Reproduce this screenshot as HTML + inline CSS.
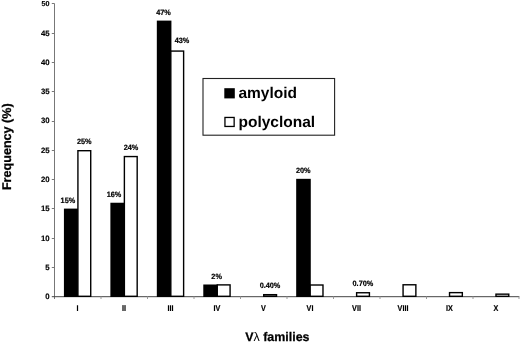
<!DOCTYPE html>
<html><head><meta charset="utf-8"><title>V lambda families</title>
<style>html,body{margin:0;padding:0;background:#fff;}svg{display:block;filter:grayscale(1);}text{text-rendering:geometricPrecision;font-family:"Liberation Sans",Arial,sans-serif;font-weight:bold;fill:#000;}</style></head><body>
<svg width="520" height="342" viewBox="0 0 520 342">
<rect x="0" y="0" width="520" height="342" fill="#fff"/>
<g stroke="#777" stroke-width="1" fill="none">
<line x1="54.5" y1="3.5" x2="54.5" y2="299.0"/>
<line x1="51.8" y1="296.7" x2="519.3" y2="296.7" stroke="#444"/>
<line x1="51.8" y1="267.50" x2="54.5" y2="267.50"/>
<line x1="51.8" y1="238.50" x2="54.5" y2="238.50"/>
<line x1="51.8" y1="208.50" x2="54.5" y2="208.50"/>
<line x1="51.8" y1="179.50" x2="54.5" y2="179.50"/>
<line x1="51.8" y1="150.50" x2="54.5" y2="150.50"/>
<line x1="51.8" y1="121.50" x2="54.5" y2="121.50"/>
<line x1="51.8" y1="91.50" x2="54.5" y2="91.50"/>
<line x1="51.8" y1="62.50" x2="54.5" y2="62.50"/>
<line x1="51.8" y1="33.50" x2="54.5" y2="33.50"/>
<line x1="51.8" y1="3.50" x2="54.5" y2="3.50"/>
<line x1="101.00" y1="296.5" x2="101.00" y2="299.0" stroke="#999"/>
<line x1="147.50" y1="296.5" x2="147.50" y2="299.0" stroke="#999"/>
<line x1="194.00" y1="296.5" x2="194.00" y2="299.0" stroke="#999"/>
<line x1="240.50" y1="296.5" x2="240.50" y2="299.0" stroke="#999"/>
<line x1="287.00" y1="296.5" x2="287.00" y2="299.0" stroke="#999"/>
<line x1="333.50" y1="296.5" x2="333.50" y2="299.0" stroke="#999"/>
<line x1="380.00" y1="296.5" x2="380.00" y2="299.0" stroke="#999"/>
<line x1="426.50" y1="296.5" x2="426.50" y2="299.0" stroke="#999"/>
<line x1="473.00" y1="296.5" x2="473.00" y2="299.0" stroke="#999"/>
<line x1="519.00" y1="296.5" x2="519.00" y2="299.0" stroke="#999"/>
</g>
<g font-size="7.8" text-anchor="end" stroke="#000" stroke-width="0.15">
<text x="49.6" y="298.90">0</text>
<text x="49.6" y="269.90">5</text>
<text x="49.6" y="240.60">10</text>
<text x="49.6" y="211.30">15</text>
<text x="49.6" y="182.00">20</text>
<text x="49.6" y="152.70">25</text>
<text x="49.6" y="123.40">30</text>
<text x="49.6" y="94.10">35</text>
<text x="49.6" y="64.80">40</text>
<text x="49.6" y="35.50">45</text>
<text x="49.6" y="5.90" font-size="7.2">50</text>
</g>
<rect x="63.92" y="208.60" width="14.6" height="88.40" fill="#000"/>
<rect x="77.92" y="150.70" width="12.8" height="145.60" fill="#fff" stroke="#000" stroke-width="1.4"/>
<rect x="110.38" y="202.74" width="14.6" height="94.26" fill="#000"/>
<rect x="124.38" y="156.56" width="12.8" height="139.74" fill="#fff" stroke="#000" stroke-width="1.4"/>
<rect x="156.82" y="20.61" width="14.6" height="276.39" fill="#000"/>
<rect x="170.82" y="51.08" width="12.8" height="245.22" fill="#fff" stroke="#000" stroke-width="1.4"/>
<rect x="203.28" y="284.49" width="14.6" height="12.51" fill="#000"/>
<rect x="217.28" y="284.89" width="12.8" height="11.41" fill="#fff" stroke="#000" stroke-width="1.4"/>
<rect x="263.72" y="294.68" width="12.8" height="1.62" fill="#fff" stroke="#000" stroke-width="1.4"/>
<rect x="296.18" y="178.83" width="14.6" height="118.17" fill="#000"/>
<rect x="310.18" y="285.01" width="12.8" height="11.29" fill="#fff" stroke="#000" stroke-width="1.4"/>
<rect x="356.62" y="292.75" width="12.8" height="3.55" fill="#fff" stroke="#000" stroke-width="1.4"/>
<rect x="403.07" y="284.78" width="12.8" height="11.52" fill="#fff" stroke="#000" stroke-width="1.4"/>
<rect x="449.53" y="292.63" width="12.8" height="3.67" fill="#fff" stroke="#000" stroke-width="1.4"/>
<rect x="495.98" y="294.15" width="12.8" height="2.15" fill="#fff" stroke="#000" stroke-width="1.4"/>
<g font-size="7.7" text-anchor="middle" stroke="#000" stroke-width="0.2">
<text transform="translate(67.90,203.10) scale(0.95,1)">15%</text>
<text transform="translate(84.30,144.10) scale(0.95,1)">25%</text>
<text transform="translate(114.00,196.90) scale(0.95,1)">16%</text>
<text transform="translate(131.00,150.00) scale(0.95,1)">24%</text>
<text transform="translate(163.50,14.50) scale(0.95,1)">47%</text>
<text transform="translate(182.00,42.70) scale(0.95,1)">43%</text>
<text transform="translate(216.60,278.60) scale(0.95,1)">2%</text>
<text transform="translate(270.00,287.70) scale(0.95,1)">0.40%</text>
<text transform="translate(303.20,172.90) scale(0.95,1)">20%</text>
<text transform="translate(362.90,285.70) scale(0.95,1)">0.70%</text>
</g>
<g font-size="8.2" text-anchor="middle" stroke="#000" stroke-width="0.2">
<text transform="translate(77.50,310.7) scale(0.88,1)">I</text>
<text transform="translate(124.00,310.7) scale(0.88,1)">II</text>
<text transform="translate(170.50,310.7) scale(0.88,1)">III</text>
<text transform="translate(217.00,310.7) scale(0.88,1)">IV</text>
<text transform="translate(263.50,310.7) scale(0.88,1)">V</text>
<text transform="translate(310.00,310.7) scale(0.88,1)">VI</text>
<text transform="translate(356.50,310.7) scale(0.88,1)">VII</text>
<text transform="translate(403.00,310.7) scale(0.88,1)">VIII</text>
<text transform="translate(449.50,310.7) scale(0.88,1)">IX</text>
<text transform="translate(496.00,310.7) scale(0.88,1)">X</text>
</g>
<text x="277.4" y="340.7" font-size="12.45" text-anchor="middle" stroke="#000" stroke-width="0.25">V<tspan font-weight="normal" stroke="none">λ</tspan> families</text>
<text transform="translate(11.0,146.7) rotate(-90)" font-size="12.6" text-anchor="middle" stroke="#000" stroke-width="0.25">Frequency (%)</text>
<rect x="203" y="78.5" width="131.6" height="56.7" fill="#fff" stroke="#222" stroke-width="1.1"/>
<rect x="224.3" y="88.2" width="10.5" height="10.2" fill="#000"/>
<rect x="224.95" y="117.45" width="9.2" height="9.0" fill="#fff" stroke="#000" stroke-width="1.3"/>
<text x="238.4" y="98.35" font-size="15.5">amyloid</text>
<text x="238.5" y="127.15" font-size="15.5">polyclonal</text>
</svg></body></html>
